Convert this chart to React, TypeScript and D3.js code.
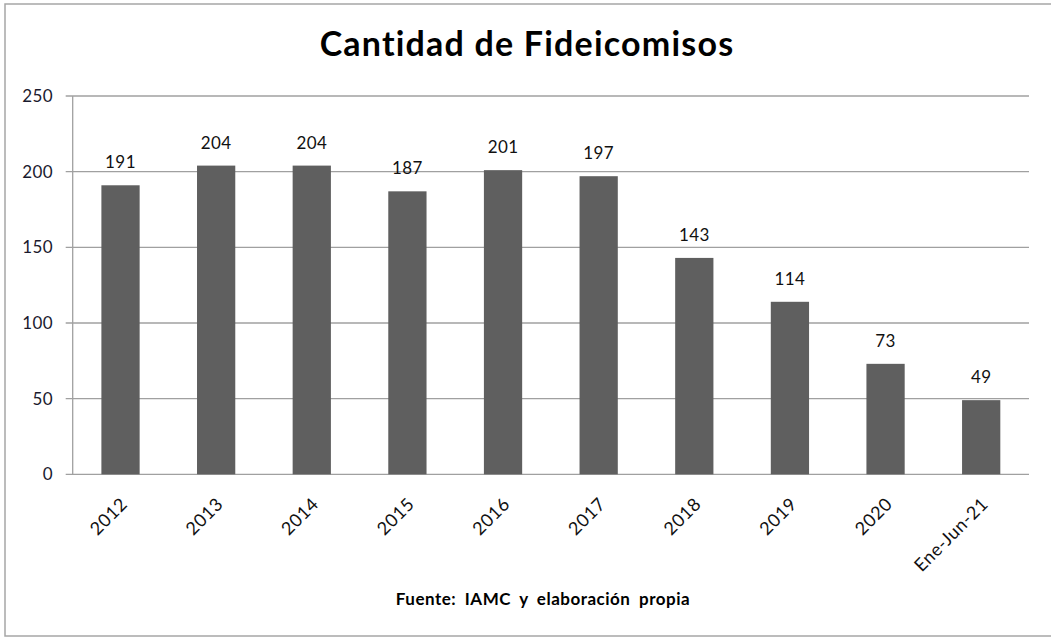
import React, { useEffect, useRef } from "react";
import * as d3 from "d3";

const categories = ["2012", "2013", "2014", "2015", "2016", "2017", "2018", "2019", "2020", "Ene-Jun-21"];
const values = [191, 204, 204, 187, 201, 197, 143, 114, 73, 49];
const yTicks = [0, 50, 100, 150, 200, 250];
const title = "Cantidad de Fideicomisos";
const source = "Fuente: IAMC y elaboración propia";

const W = 1051;
const H = 637;
const FONT = "Lato, 'Open Sans', sans-serif";

export default function App() {
  const ref = useRef<SVGSVGElement>(null);

  useEffect(() => {
    const svg = d3.select(ref.current);
    svg.selectAll("*").remove();

    const left = 72.7;
    const right = 1029;
    const top = 96;
    const bottom = 474.3;

    const x = d3.scaleBand().domain(categories).range([left, right]).paddingInner(0.6).paddingOuter(0.3);
    const y = d3.scaleLinear().domain([0, 250]).range([bottom, top]);

    // outer frame
    svg.append("rect")
      .attr("x", 5).attr("y", 4)
      .attr("width", W + 10).attr("height", H - 5)
      .attr("fill", "#fff")
      .attr("stroke", "#a6a6a6")
      .attr("stroke-width", 1.5);

    svg.append("text")
      .attr("x", 527).attr("y", 56)
      .attr("text-anchor", "middle")
      .attr("font-family", FONT)
      .attr("font-weight", "bold")
      .attr("font-size", 34)
      .attr("letter-spacing", 1.2)
      .attr("fill", "#000")
      .text(title);

    // grid lines
    svg.append("g")
      .selectAll("line")
      .data(yTicks)
      .join("line")
      .attr("x1", left - 7).attr("x2", right)
      .attr("y1", d => y(d)).attr("y2", d => y(d))
      .attr("stroke", "#a0a0a0")
      .attr("stroke-width", 1.3);

    svg.append("line")
      .attr("x1", left).attr("x2", left)
      .attr("y1", top).attr("y2", bottom)
      .attr("stroke", "#a0a0a0")
      .attr("stroke-width", 1.3);

    svg.append("g")
      .selectAll("text")
      .data(yTicks)
      .join("text")
      .attr("x", 53).attr("y", d => y(d))
      .attr("dy", "0.35em")
      .attr("text-anchor", "end")
      .attr("font-family", FONT)
      .attr("font-size", 17)
      .attr("letter-spacing", 0.4)
      .attr("fill", "#1a1a2e")
      .text(d => d);

    const bars = svg.append("g");
    bars.selectAll("rect")
      .data(values)
      .join("rect")
      .attr("x", (d, i) => x(categories[i])!)
      .attr("width", x.bandwidth())
      .attr("y", d => y(d))
      .attr("height", d => bottom - y(d))
      .attr("fill", "#5f5f5f");

    bars.selectAll("text")
      .data(values)
      .join("text")
      .attr("x", (d, i) => x(categories[i])! + x.bandwidth() / 2)
      .attr("y", d => y(d) - 17)
      .attr("text-anchor", "middle")
      .attr("font-family", FONT)
      .attr("font-size", 17)
      .attr("letter-spacing", 0.4)
      .attr("fill", "#111")
      .text(d => d);

    svg.append("g")
      .selectAll("text")
      .data(categories)
      .join("text")
      .attr("transform", d => `translate(${x(d)! + x.bandwidth() / 2 + 8},${bottom + 31}) rotate(-45)`)
      .attr("text-anchor", "end")
      .attr("font-family", FONT)
      .attr("font-size", 18)
      .attr("letter-spacing", 0.5)
      .attr("fill", "#111")
      .text(d => d);

    svg.append("text")
      .attr("x", 543).attr("y", 605)
      .attr("text-anchor", "middle")
      .attr("font-family", FONT)
      .attr("font-weight", "bold")
      .attr("font-size", 17)
      .attr("letter-spacing", 0.5)
      .attr("word-spacing", 4)
      .attr("fill", "#000")
      .text(source);
  }, []);

  return (
    <svg
      ref={ref}
      width={W}
      height={H}
      style={{ position: "absolute", left: 0, top: 0, background: "#fff" }}
    />
  );
}
